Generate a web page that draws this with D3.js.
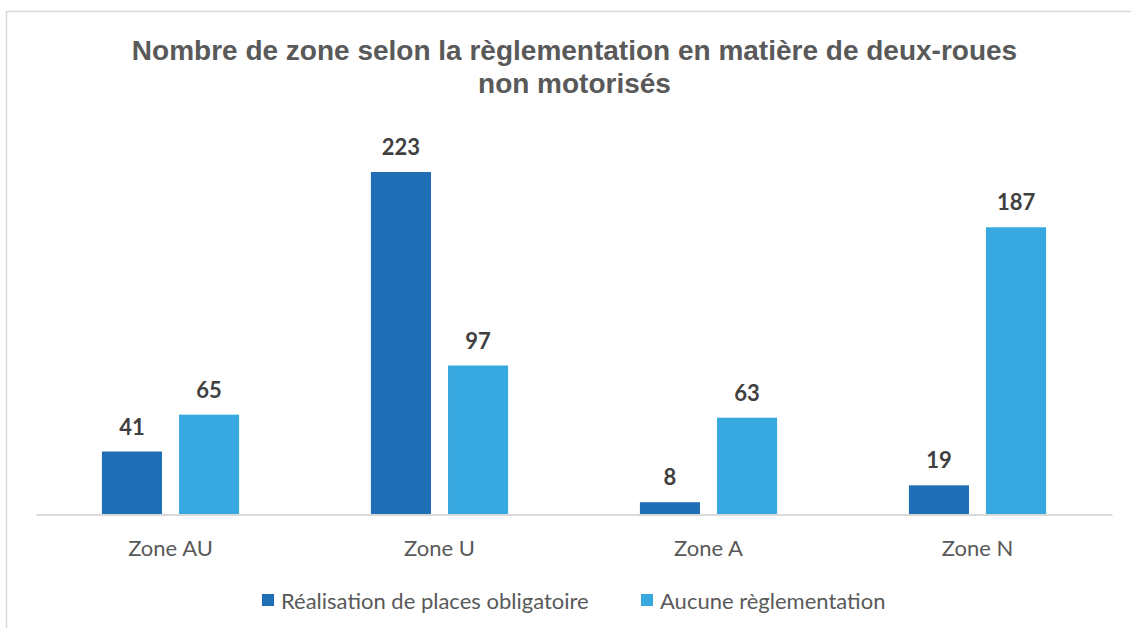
<!DOCTYPE html>
<html><head><meta charset="utf-8">
<script src="https://cdn.jsdelivr.net/npm/d3@7"></script>
<style>
html,body{margin:0;padding:0;background:#fff;}
svg{display:block;}
</style>
</head><body>
<svg id="chart" width="1131" height="628"></svg>
<script>
const categories = ["Zone AU", "Zone U", "Zone A", "Zone N"];
const seriesNames = ["Réalisation de places obligatoire", "Aucune règlementation"];
const realisation = [41, 223, 8, 19];
const aucune = [65, 97, 63, 187];
const titleLines = ["Nombre de zone selon la règlementation en matière de deux-roues", "non motorisés"];
const colors = ["#1F6EB6", "#37A9E0"];

const svg = d3.select("#chart");

// chart frame (cropped on right and bottom)
svg.append("rect").attr("x", 6.5).attr("y", 11.5).attr("width", 1140).attr("height", 640)
  .attr("fill", "#fff").attr("stroke", "#d9d9d9").attr("stroke-width", 1.5);

const values = [realisation, aucune];
const data = categories.map((c, i) => ({cat: c, vals: seriesNames.map((s, j) => ({s, j, v: values[j][i]}))}));

const x0 = d3.scaleBand().domain(categories).range([36, 1112]).paddingInner(0).paddingOuter(0);
const bw = x0.bandwidth();
const x1 = d3.scaleBand().domain(seriesNames).range([0.245 * bw, 0.755 * bw]).paddingInner(0.221).paddingOuter(0);
const y = d3.scaleLinear().domain([0, 250]).range([514.5, 130.5]);

// title
svg.append("text").attr("x", 574.5).attr("y", 60)
  .attr("text-anchor", "middle").attr("font-family", "Liberation Sans, Arial, sans-serif")
  .attr("font-weight", "bold").attr("font-size", 28).attr("fill", "#595959")
  .selectAll("tspan").data(titleLines).join("tspan")
  .attr("x", 574.5).attr("dy", (d, i) => i === 0 ? 0 : 33).text(d => d);

const g = svg.append("g");
const groups = g.selectAll("g.cat").data(data).join("g").attr("class", "cat")
  .attr("transform", d => `translate(${x0(d.cat)},0)`);

groups.selectAll("rect").data(d => d.vals).join("rect")
  .attr("x", d => x1(d.s)).attr("width", x1.bandwidth())
  .attr("y", d => y(d.v)).attr("height", d => y(0) - y(d.v))
  .attr("fill", d => colors[d.j]);

groups.selectAll("text.val").data(d => d.vals).join("text").attr("class", "val")
  .attr("x", d => x1(d.s) + x1.bandwidth() / 2).attr("y", d => y(d.v) - 17)
  .attr("text-anchor", "middle").attr("font-family", "Lato, Open Sans, sans-serif")
  .attr("font-weight", "bold").attr("font-size", 22).attr("fill", "#404040")
  .text(d => d.v);

// x axis
const xAxis = d3.axisBottom(x0).tickSize(0).tickPadding(0);
const ax = svg.append("g").attr("transform", `translate(0,${y(0)})`).call(xAxis);
ax.select(".domain").attr("stroke", "#d9d9d9").attr("stroke-width", 2);
ax.selectAll(".tick text").attr("y", 41.5).attr("dy", 0)
  .attr("font-family", "Lato, Open Sans, sans-serif").attr("font-size", 22).attr("fill", "#595959");

// legend
const legendX = [262, 641];
const leg = svg.append("g").selectAll("g").data(seriesNames).join("g")
  .attr("transform", (d, i) => `translate(${legendX[i]},594)`);
leg.append("rect").attr("width", 12).attr("height", 12).attr("fill", (d, i) => colors[i]);
leg.append("text").attr("x", 19).attr("y", 15)
  .attr("font-family", "Lato, Open Sans, sans-serif").attr("font-size", 22).attr("fill", "#595959")
  .text(d => d);
</script>
</body></html>
